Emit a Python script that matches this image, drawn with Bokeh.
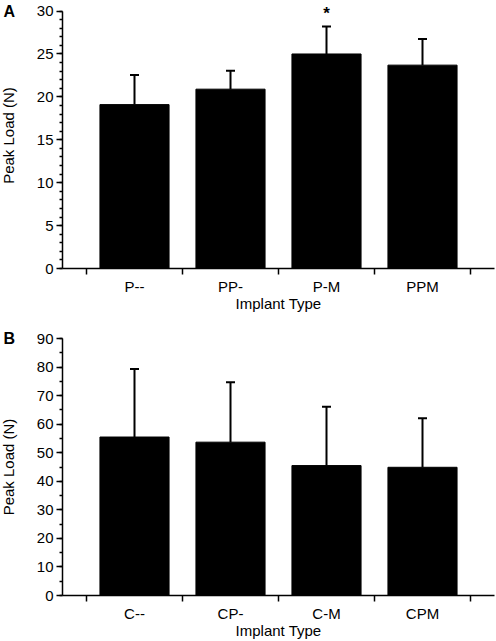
import numpy as np
from bokeh.plotting import figure
from bokeh.models import (FixedTicker, Whisker, TeeHead, Label, ColumnDataSource,
                          Range1d, Title)
from bokeh.layouts import column
from bokeh.embed import file_html
from bokeh.resources import INLINE

# ---------------- data ----------------
cats_a = ["P--", "PP-", "P-M", "PPM"]
mean_a = [19.1, 20.9, 25.0, 23.7]
sd_a = [3.45, 2.15, 3.2, 3.05]
sig_a = ["", "", "*", ""]
yticks_a = [0, 5, 10, 15, 20, 25, 30]
yminor_a = list(range(0, 31, 1))

cats_b = ["C--", "CP-", "C-M", "CPM"]
mean_b = [55.5, 53.7, 45.5, 44.9]
sd_b = [23.8, 21.0, 20.6, 17.2]
sig_b = ["", "", "", ""]
yticks_b = [0, 10, 20, 30, 40, 50, 60, 70, 80, 90]
yminor_b = list(range(0, 91, 5))

FONT = "Liberation Sans"
SHIFT = 6  # part of the left border that lies outside the page


def panel(letter, cats, means, sds, sig, yticks, yminor, height, top_border,
          bottom_border, head_room, title_standoff):
    n = len(cats)
    xs = [i + 0.5 for i in range(n)]
    ymax = yticks[-1]
    p = figure(width=496 + SHIFT, height=height, output_backend="svg",
               toolbar_location=None, x_range=Range1d(-0.25, n + 0.25),
               y_range=Range1d(0, ymax * (1 + head_room)),
               min_border_left=62 + SHIFT, min_border_right=2,
               min_border_top=top_border, min_border_bottom=bottom_border)
    p.outline_line_color = None
    p.xgrid.visible = False
    p.ygrid.visible = False
    p.background_fill_color = "white"
    p.border_fill_color = "white"

    # panel letter as a left-aligned title pulled out over the y axis
    p.add_layout(Title(text=letter, align="left", offset=-59,
                       standoff=title_standoff,
                       vertical_align="bottom", text_font=FONT,
                       text_font_size="16px", text_font_style="bold",
                       text_color="black"), "above")

    src = ColumnDataSource(dict(x=xs, top=means,
                                upper=[m + s for m, s in zip(means, sds)]))
    p.vbar(x="x", top="top", width=0.72, bottom=0, source=src,
           fill_color="black", line_color="black")
    w = Whisker(base="x", lower="top", upper="upper", dimension="height",
                source=src, line_color="black", line_width=2,
                lower_head=None,
                upper_head=TeeHead(size=9, line_color="black", line_width=2))
    p.add_layout(w)

    # x axis
    xa = p.xaxis[0]
    xa.ticker = FixedTicker(ticks=xs, minor_ticks=list(range(n + 1)))
    xa.major_label_overrides = {x: c for x, c in zip(xs, cats)}
    xa.major_tick_out = 0
    xa.major_tick_in = 0
    xa.minor_tick_out = 6
    xa.minor_tick_in = 0
    xa.major_label_standoff = 3
    xa.axis_label = "Implant Type"
    xa.axis_label_standoff = -3

    # y axis
    ya = p.yaxis[0]
    ya.ticker = FixedTicker(ticks=yticks, minor_ticks=yminor)
    ya.bounds = (0, ymax)
    ya.major_tick_out = 6
    ya.major_tick_in = 0
    ya.minor_tick_out = 3
    ya.minor_tick_in = 0
    ya.major_label_standoff = 3
    ya.axis_label = "Peak Load (N)"
    ya.axis_label_standoff = 17

    for ax in (xa, ya):
        ax.axis_line_color = "black"
        ax.axis_line_width = 1.5
        ax.major_tick_line_color = "black"
        ax.major_tick_line_width = 1.5
        ax.minor_tick_line_color = "black"
        ax.minor_tick_line_width = 1.5
        ax.major_label_text_font = FONT
        ax.major_label_text_font_size = "15px"
        ax.major_label_text_color = "black"
        ax.axis_label_text_font = FONT
        ax.axis_label_text_font_size = "15px"
        ax.axis_label_text_font_style = "normal"
        ax.axis_label_text_color = "black"

    # significance marks
    for x, s, m, sd in zip(xs, sig, means, sds):
        if s:
            p.add_layout(Label(x=x, y=m + sd, y_offset=13, text=s,
                               text_font=FONT, text_font_size="17px",
                               text_font_style="bold",
                               text_color="black", text_align="center",
                               text_baseline="alphabetic"))
    return p


pA = panel("A", cats_a, mean_a, sd_a, sig_a, yticks_a, yminor_a,
           height=320, top_border=2, bottom_border=52,
           head_room=1 / 30, title_standoff=-34)
pB = panel("B", cats_b, mean_b, sd_b, sig_b, yticks_b, yminor_b,
           height=321, top_border=18, bottom_border=45,
           head_room=0, title_standoff=-17)

layout = column(pA, pB, margin=(0, 0, 0, -SHIFT))

with open("out.html", "w") as f:
    f.write(file_html(layout, INLINE))
